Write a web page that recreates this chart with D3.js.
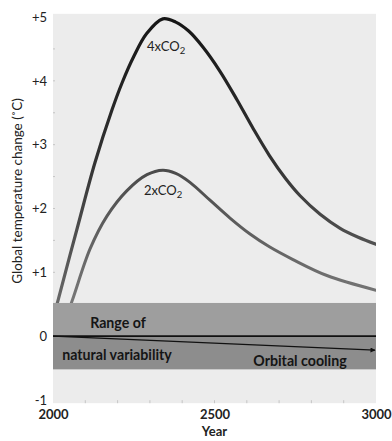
<!DOCTYPE html>
<html>
<head>
<meta charset="utf-8">
<script src="https://cdn.jsdelivr.net/npm/d3@7"></script>
<style>
  html, body { margin: 0; padding: 0; background: #fff; }
  svg { display: block; font-family: Lato, "Open Sans", sans-serif; }
</style>
</head>
<body>
<svg id="chart" width="392" height="441"></svg>
<script>
// values
const years4x = [2000, 2015, 2077, 2130, 2183, 2214, 2250, 2290, 2340, 2380, 2420, 2464, 2517, 2570, 2620, 2670, 2720, 2765, 2827, 2889, 2945, 3000];
const temp4x  = [0.25, 0.55, 1.73, 2.72, 3.55, 3.97, 4.38, 4.74, 4.97, 4.92, 4.78, 4.53, 4.15, 3.70, 3.25, 2.83, 2.47, 2.20, 1.91, 1.69, 1.55, 1.44];
const years2x = [2020, 2059, 2115, 2167, 2229, 2291, 2340, 2380, 2424, 2486, 2548, 2610, 2670, 2743, 2848, 3000];
const temp2x  = [0, 0.55, 1.37, 1.88, 2.28, 2.53, 2.60, 2.55, 2.41, 2.13, 1.85, 1.60, 1.40, 1.20, 0.95, 0.72];
const yTicks = [-1, 0, 1, 2, 3, 4, 5];
const xTicks = [2000, 2500, 3000];
const band = [-0.52, 0.52];          // range of natural variability
const cooling = [[2000, 0], [3000, -0.22]];

const svg = d3.select('#chart');
const x = d3.scaleLinear().domain([2000, 3000]).range([53, 376]);
const y = d3.scaleLinear().domain([-1, 5]).range([400, 17]);

const defs = svg.append('defs');
defs.html(`
  <clipPath id="plotClip"><rect x="53" y="14" width="323" height="390"/></clipPath>
  <linearGradient id="g4" gradientUnits="userSpaceOnUse" x1="0" y1="15" x2="0" y2="310"><stop offset="0" stop-color="#151515"/><stop offset="0.5" stop-color="#333"/><stop offset="1" stop-color="#6a6a6a"/></linearGradient>
  <linearGradient id="g2" gradientUnits="userSpaceOnUse" x1="0" y1="170" x2="0" y2="310"><stop offset="0" stop-color="#4a4a4a"/><stop offset="1" stop-color="#7a7a7a"/></linearGradient>
  <marker id="arr" viewBox="0 0 10 10" refX="9" refY="5" markerWidth="7" markerHeight="5" orient="auto" markerUnits="userSpaceOnUse"><path d="M0,0L10,5L0,10z" fill="#111"/></marker>`);

// plot background
svg.append('rect').attr('x', x(2000)).attr('y', y(5.05)).attr('width', x(3000) - x(2000)).attr('height', y(-1.05) - y(5.05)).attr('fill', '#ececec');

// faint minor ticks at the bottom and left
const minor = d3.range(2100, 3000, 100);
svg.append('g').selectAll('line').data(minor).join('line')
  .attr('x1', d => x(d)).attr('x2', d => x(d)).attr('y1', y(-1.05)).attr('y2', y(-1.05) - 3)
  .attr('stroke', '#bbb').attr('stroke-width', 0.8);
svg.append('g').selectAll('line').data(d3.range(-0.5, 5, 0.5)).join('line')
  .attr('x1', x(2000)).attr('x2', x(2000) + 2).attr('y1', d => y(d)).attr('y2', d => y(d))
  .attr('stroke', '#bbb').attr('stroke-width', 0.8);

const line = d3.line().x(d => x(d[0])).y(d => y(d[1])).curve(d3.curveCatmullRom.alpha(0.5));
const plot = svg.append('g').attr('clip-path', 'url(#plotClip)');
plot.append('path').datum(d3.zip(years4x, temp4x)).attr('d', line).attr('fill', 'none').attr('stroke', 'url(#g4)').attr('stroke-width', 3.2).attr('stroke-linecap', 'round');
plot.append('path').datum(d3.zip(years2x, temp2x)).attr('d', line).attr('fill', 'none').attr('stroke', 'url(#g2)').attr('stroke-width', 3).attr('stroke-linecap', 'round');

// natural variability band (lighter above zero, darker below)
plot.append('rect').attr('x', x(2000)).attr('y', y(band[1])).attr('width', x(3000) - x(2000)).attr('height', y(0) - y(band[1])).attr('fill', '#9e9e9e');
plot.append('rect').attr('x', x(2000)).attr('y', y(0)).attr('width', x(3000) - x(2000)).attr('height', y(band[0]) - y(0)).attr('fill', '#8d8d8d');

plot.append('line').attr('x1', x(2000)).attr('x2', x(3000)).attr('y1', y(0)).attr('y2', y(0)).attr('stroke', '#111').attr('stroke-width', 1.6);
svg.append('line').attr('x1', x(cooling[0][0])).attr('y1', y(cooling[0][1])).attr('x2', x(cooling[1][0]) - 1).attr('y2', y(cooling[1][1]))
  .attr('stroke', '#111').attr('stroke-width', 1.3).attr('marker-end', 'url(#arr)');

// axes
const yAxis = svg.append('g').attr('transform', `translate(${x(2000)},0)`)
  .call(d3.axisLeft(y).tickValues(yTicks).tickSize(0).tickPadding(6).tickFormat(d => d > 0 ? '+' + d : d));
yAxis.select('.domain').remove();
yAxis.selectAll('text').attr('font-size', 13).attr('fill', '#222').attr('font-family', 'Lato, sans-serif');

const xAxis = svg.append('g').attr('transform', `translate(0,${y(-1)})`)
  .call(d3.axisBottom(x).tickValues(xTicks).tickSize(0).tickPadding(10).tickFormat(d3.format('d')));
xAxis.select('.domain').remove();
xAxis.selectAll('text').attr('font-size', 13).attr('font-weight', 'bold').attr('fill', '#222').attr('font-family', 'Lato, sans-serif');

svg.append('text').attr('x', x(2500)).attr('y', 436).attr('text-anchor', 'middle').attr('font-size', 13).attr('font-weight', 'bold').attr('fill', '#222').text('Year');
svg.append('text').attr('transform', 'translate(22,191) rotate(-90)').attr('text-anchor', 'middle')
  .attr('font-size', 13.5).attr('fill', '#222').text('Global temperature change (˚C)');

// annotations
function co2(label, px, py) {
  const t = svg.append('text').attr('x', px).attr('y', py).attr('font-size', 13).attr('fill', '#222');
  t.append('tspan').text(label + 'CO');
  t.append('tspan').attr('dy', 3).attr('font-size', 9.5).text('2');
}
co2('4x', 147, 51);
co2('2x', 144, 195);

const notes = [['Range of', 118, 328], ['natural variability', 117, 360], ['Orbital cooling', 300, 366]];
svg.append('g').selectAll('text').data(notes).join('text')
  .attr('x', d => d[1]).attr('y', d => d[2]).attr('text-anchor', 'middle')
  .attr('font-size', 14.2).attr('font-weight', 'bold').attr('fill', '#151515').text(d => d[0]);
</script>
</body>
</html>
